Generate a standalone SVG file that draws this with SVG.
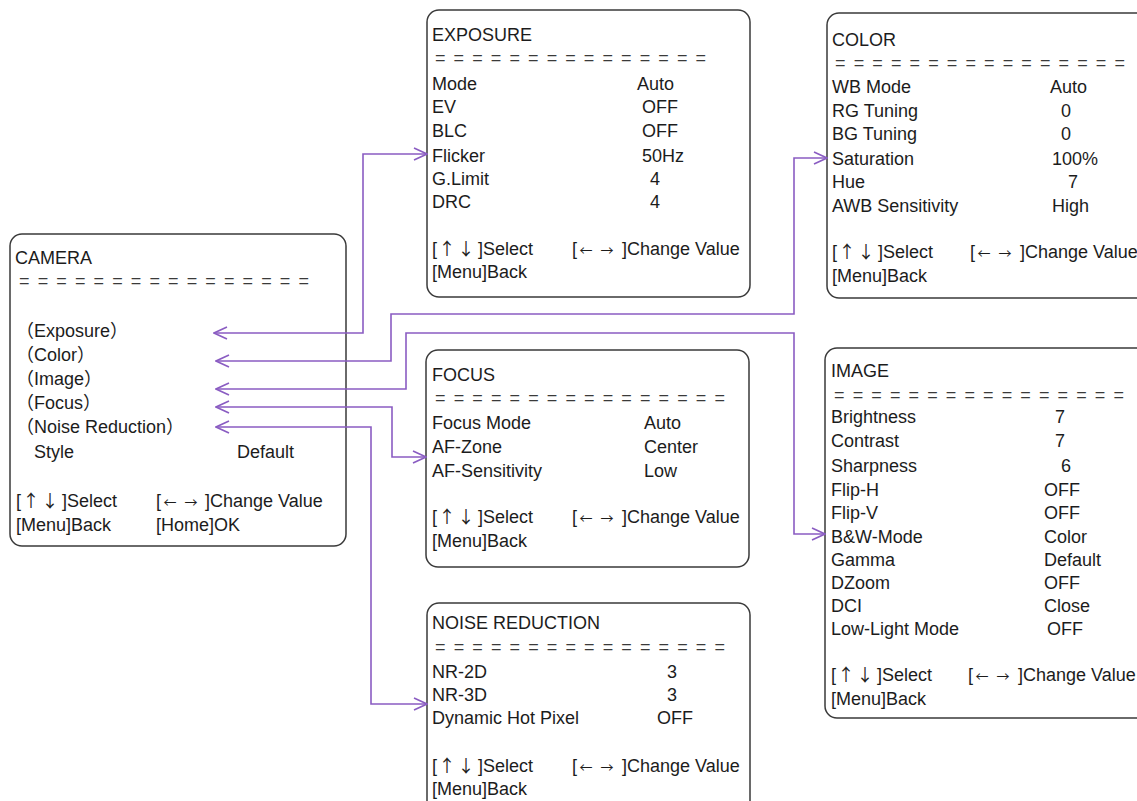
<svg xmlns="http://www.w3.org/2000/svg" width="1137" height="801" viewBox="0 0 1137 801">
<style>
.box{fill:#fff;stroke:#3a3a3a;stroke-width:1.5}
text{font-family:"Liberation Sans","Noto Sans CJK SC",Arial,sans-serif;font-size:18px;fill:#1c1c1c}
.sep{fill:#3a3a3a}
.ar{font-family:"Noto Sans CJK SC","DejaVu Sans",sans-serif;font-size:17px}
.ah{font-family:"Noto Sans CJK SC","DejaVu Sans",sans-serif;font-size:13px}
.mid{text-anchor:middle}
.conn path{fill:none;stroke:#8a5cc2;stroke-width:1.6;marker-start:url(#ah);marker-end:url(#ah)}
</style>
<defs>
<marker id="ah" markerUnits="userSpaceOnUse" viewBox="0 0 15 14" refX="14" refY="7" markerWidth="15" markerHeight="14" orient="auto-start-reverse">
<path d="M1,1 L14,7 L1,13" fill="none" stroke="#8a5cc2" stroke-width="1.6"/>
</marker>
</defs>
<rect width="1137" height="801" fill="#fff"/>

<g id="camera">
<rect class="box" x="10" y="234" width="336" height="312" rx="12"/>
<text x="15" y="264">CAMERA</text>
<text class="sep" x="19" y="287" textLength="290" lengthAdjust="spacing">= = = = = = = = = = = = = = = =</text>
<text x="16" y="337">（Exposure）</text>
<text x="16" y="361">（Color）</text>
<text x="16" y="385">（Image）</text>
<text x="16" y="409">（Focus）</text>
<text x="16" y="433">（Noise Reduction）</text>
<text x="34" y="458">Style</text>
<text x="237" y="458">Default</text>
<text x="16" y="507">[<tspan class="ar mid" x="31">↑</tspan><tspan class="ar mid" x="50">↓</tspan><tspan x="62">]Select</tspan></text>
<text x="156" y="507">[<tspan class="ah mid" x="170">←</tspan><tspan class="ah mid" x="191">→</tspan><tspan x="205">]Change Value</tspan></text>
<text x="16" y="531">[Menu]Back</text>
<text x="156" y="531">[Home]OK</text>
</g>

<g id="exposure">
<rect class="box" x="427" y="10" width="323" height="287" rx="12"/>
<text x="432" y="41">EXPOSURE</text>
<text class="sep" x="435" y="64" textLength="271" lengthAdjust="spacing">= = = = = = = = = = = = = = =</text>
<text x="432" y="90">Mode</text><text x="637" y="90">Auto</text>
<text x="432" y="113">EV</text><text x="642" y="113">OFF</text>
<text x="432" y="137">BLC</text><text x="642" y="137">OFF</text>
<text x="432" y="162">Flicker</text><text x="642" y="162">50Hz</text>
<text x="432" y="185">G.Limit</text><text x="650" y="185">4</text>
<text x="432" y="208">DRC</text><text x="650" y="208">4</text>
<text x="432" y="255">[<tspan class="ar mid" x="447">↑</tspan><tspan class="ar mid" x="466">↓</tspan><tspan x="478">]Select</tspan></text>
<text x="572" y="255">[<tspan class="ah mid" x="586">←</tspan><tspan class="ah mid" x="607">→</tspan><tspan x="622">]Change Value</tspan></text>
<text x="432" y="278">[Menu]Back</text>
</g>

<g id="color">
<rect class="box" x="827" y="13" width="330" height="285" rx="12"/>
<text x="832" y="46">COLOR</text>
<text class="sep" x="835" y="69" textLength="290" lengthAdjust="spacing">= = = = = = = = = = = = = = = =</text>
<text x="832" y="93">WB Mode</text><text x="1050" y="93">Auto</text>
<text x="832" y="117">RG Tuning</text><text x="1061" y="117">0</text>
<text x="832" y="140">BG Tuning</text><text x="1061" y="140">0</text>
<text x="832" y="165">Saturation</text><text x="1052" y="165">100%</text>
<text x="832" y="188">Hue</text><text x="1068" y="188">7</text>
<text x="832" y="212">AWB Sensitivity</text><text x="1052" y="212">High</text>
<text x="832" y="258">[<tspan class="ar mid" x="847">↑</tspan><tspan class="ar mid" x="866">↓</tspan><tspan x="878">]Select</tspan></text>
<text x="970" y="258">[<tspan class="ah mid" x="984">←</tspan><tspan class="ah mid" x="1005">→</tspan><tspan x="1020">]Change Value</tspan></text>
<text x="832" y="282">[Menu]Back</text>
</g>

<g id="focus">
<rect class="box" x="426" y="350" width="323" height="217" rx="12"/>
<text x="432" y="381">FOCUS</text>
<text class="sep" x="435" y="404" textLength="290" lengthAdjust="spacing">= = = = = = = = = = = = = = = =</text>
<text x="432" y="429">Focus Mode</text><text x="644" y="429">Auto</text>
<text x="432" y="453">AF-Zone</text><text x="644" y="453">Center</text>
<text x="432" y="477">AF-Sensitivity</text><text x="644" y="477">Low</text>
<text x="432" y="523">[<tspan class="ar mid" x="447">↑</tspan><tspan class="ar mid" x="466">↓</tspan><tspan x="478">]Select</tspan></text>
<text x="572" y="523">[<tspan class="ah mid" x="586">←</tspan><tspan class="ah mid" x="607">→</tspan><tspan x="622">]Change Value</tspan></text>
<text x="432" y="547">[Menu]Back</text>
</g>

<g id="image">
<rect class="box" x="825" y="348" width="330" height="370" rx="12"/>
<text x="831" y="377">IMAGE</text>
<text class="sep" x="834" y="401" textLength="290" lengthAdjust="spacing">= = = = = = = = = = = = = = = =</text>
<text x="831" y="423">Brightness</text><text x="1055" y="423">7</text>
<text x="831" y="447">Contrast</text><text x="1055" y="447">7</text>
<text x="831" y="472">Sharpness</text><text x="1061" y="472">6</text>
<text x="831" y="496">Flip-H</text><text x="1044" y="496">OFF</text>
<text x="831" y="519">Flip-V</text><text x="1044" y="519">OFF</text>
<text x="831" y="543">B&amp;W-Mode</text><text x="1044" y="543">Color</text>
<text x="831" y="566">Gamma</text><text x="1044" y="566">Default</text>
<text x="831" y="589">DZoom</text><text x="1044" y="589">OFF</text>
<text x="831" y="612">DCI</text><text x="1044" y="612">Close</text>
<text x="831" y="635">Low-Light Mode</text><text x="1047" y="635">OFF</text>
<text x="831" y="681">[<tspan class="ar mid" x="846">↑</tspan><tspan class="ar mid" x="865">↓</tspan><tspan x="877">]Select</tspan></text>
<text x="968" y="681">[<tspan class="ah mid" x="982">←</tspan><tspan class="ah mid" x="1003">→</tspan><tspan x="1018">]Change Value</tspan></text>
<text x="831" y="705">[Menu]Back</text>
</g>

<g id="noise-reduction">
<rect class="box" x="427" y="603" width="323" height="215" rx="12"/>
<text x="432" y="629">NOISE REDUCTION</text>
<text class="sep" x="435" y="653" textLength="290" lengthAdjust="spacing">= = = = = = = = = = = = = = = =</text>
<text x="432" y="678">NR-2D</text><text x="667" y="678">3</text>
<text x="432" y="701">NR-3D</text><text x="667" y="701">3</text>
<text x="432" y="724">Dynamic Hot Pixel</text><text x="657" y="724">OFF</text>
<text x="432" y="772">[<tspan class="ar mid" x="447">↑</tspan><tspan class="ar mid" x="466">↓</tspan><tspan x="478">]Select</tspan></text>
<text x="572" y="772">[<tspan class="ah mid" x="586">←</tspan><tspan class="ah mid" x="607">→</tspan><tspan x="622">]Change Value</tspan></text>
<text x="432" y="795">[Menu]Back</text>
</g>

<g id="connectors" class="conn">
<path d="M214,333 H363 V154 H427"/>
<path d="M216,361 H391 V314 H794 V158 H827"/>
<path d="M216,389 H406 V333 H794 V534 H825"/>
<path d="M216,407 H392 V457 H426"/>
<path d="M216,427 H371 V704 H427"/>
</g>
</svg>
